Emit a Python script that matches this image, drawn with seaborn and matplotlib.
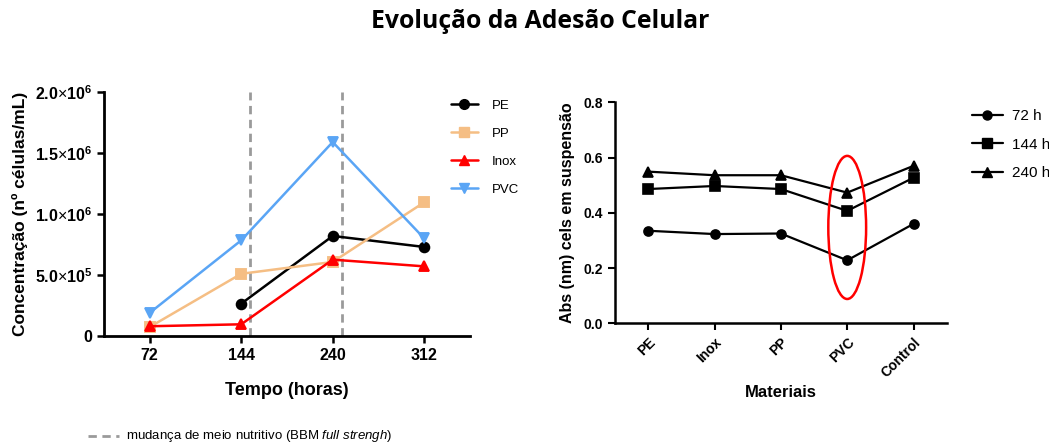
import numpy as np
import pandas as pd
import matplotlib
matplotlib.use("Agg")
import matplotlib.pyplot as plt
import seaborn as sns
from matplotlib.lines import Line2D
from matplotlib.patches import Ellipse

# ---------------- data ----------------
times = ["72", "144", "240", "312"]
pe_vals = [np.nan, 0.265e6, 0.82e6, 0.73e6]
pp_vals = [0.074e6, 0.51e6, 0.607e6, 1.096e6]
inox_vals = [0.08e6, 0.096e6, 0.626e6, 0.571e6]
pvc_vals = [0.19e6, 0.784e6, 1.59e6, 0.80e6]
left_series = ["PE", "PP", "Inox", "PVC"]
left_colors = ["#000000", "#F5BE84", "#FF0000", "#5AA5F5"]
left_markers = ["o", "s", "^", "v"]
left_yticks = [0, 0.5e6, 1.0e6, 1.5e6, 2.0e6]
left_yticklabels = ["0", r"$\mathbf{5.0}{\times}\mathbf{10^{5}}$", r"$\mathbf{1.0}{\times}\mathbf{10^{6}}$",
                    r"$\mathbf{1.5}{\times}\mathbf{10^{6}}$", r"$\mathbf{2.0}{\times}\mathbf{10^{6}}$"]
change_positions = [1.1, 2.1]  # medium change (between sampling times)

materials = ["PE", "Inox", "PP", "PVC", "Control"]
abs_72 = [0.335, 0.323, 0.325, 0.228, 0.360]
abs_144 = [0.486, 0.497, 0.486, 0.407, 0.527]
abs_240 = [0.549, 0.536, 0.536, 0.473, 0.570]
right_series = ["72 h", "144 h", "240 h"]
right_markers = ["o", "s", "^"]
highlight = "PVC"
highlight_range = (0.088, 0.606)

# ---------------- frames ----------------
left_df = pd.DataFrame({
    "Tempo": times * 4,
    "Conc": pe_vals + pp_vals + inox_vals + pvc_vals,
    "Material": [s for s in left_series for _ in times],
})
right_df = pd.DataFrame({
    "Material": materials * 3,
    "Abs": abs_72 + abs_144 + abs_240,
    "Tempo": [s for s in right_series for _ in materials],
})

sns.set_theme(style="ticks")
plt.rcParams["font.family"] = ["Liberation Sans", "DejaVu Sans"]
plt.rcParams["mathtext.fontset"] = "custom"
plt.rcParams["mathtext.it"] = "Liberation Sans:italic"
plt.rcParams["mathtext.rm"] = "Liberation Sans"
plt.rcParams["mathtext.bf"] = "Liberation Sans:bold"
for k in ["text.color", "axes.labelcolor", "xtick.color", "ytick.color", "axes.edgecolor"]:
    plt.rcParams[k] = "black"

fig = plt.figure(figsize=(10.49, 4.43), dpi=100)
axL = fig.add_axes([0.0991, 0.2415, 0.3489, 0.5508])
axR = fig.add_axes([0.5863, 0.2702, 0.3162, 0.4989])

# ---------------- left chart ----------------
for xp in change_positions:
    axL.axvline(xp, color="#9A9A9A", lw=2, ls=(0, (3, 2)), zorder=1)
sns.pointplot(data=left_df, x="Tempo", y="Conc", hue="Material", order=times,
              hue_order=left_series, palette=left_colors, markers=left_markers,
              linestyles="-", errorbar=None, markersize=7, linewidth=1.8,
              legend=False, ax=axL)
axL.set_ylim(0, 2.0e6)
axL.set_xlim(-0.5, 3.5)
axL.set_yticks(left_yticks)
axL.set_yticklabels(left_yticklabels)
axL.set_xlabel("Tempo (horas)", fontsize=13, fontweight="bold", labelpad=14)
axL.set_ylabel("Concentração (nº células/mL)", fontsize=12.5, fontweight="bold", labelpad=5)
axL.tick_params(axis="both", labelsize=11.5, width=1.8, length=5, color="black")
for lab in axL.get_xticklabels() + axL.get_yticklabels():
    lab.set_fontweight("bold")
for sp in ["top", "right"]:
    axL.spines[sp].set_visible(False)
for sp in ["left", "bottom"]:
    axL.spines[sp].set_linewidth(2)
    axL.spines[sp].set_color("black")

hL = [Line2D([0], [0], color=c, marker=m, lw=1.8, markersize=7)
      for c, m in zip(left_colors, left_markers)]
fig.legend(hL, left_series, loc="upper left", bbox_to_anchor=(446 / 1049, 1 - 94 / 443),
           frameon=False, fontsize=9.5, handlelength=2.0, labelspacing=1.2,
           handletextpad=1.1, borderaxespad=0)

# ---------------- right chart ----------------
sns.pointplot(data=right_df, x="Material", y="Abs", hue="Tempo", order=materials,
              hue_order=right_series, palette=["black"] * 3, markers=right_markers,
              linestyles="-", errorbar=None, markersize=6.5, linewidth=1.6,
              legend=False, ax=axR)
axR.set_ylim(0, 0.8)
axR.set_xlim(-0.5, 4.5)
axR.set_yticks([0.0, 0.2, 0.4, 0.6, 0.8])
axR.set_yticklabels(["0.0", "0.2", "0.4", "0.6", "0.8"])
axR.set_xlabel("Materiais", fontsize=12, fontweight="bold", labelpad=4)
axR.set_ylabel("Abs (nm) cels em suspensão", fontsize=11.5, fontweight="bold", labelpad=6)
axR.tick_params(axis="both", labelsize=10, width=1.5, length=5, color="black")
for lab in axR.get_xticklabels() + axR.get_yticklabels():
    lab.set_fontweight("bold")
plt.setp(axR.get_xticklabels(), rotation=45, ha="right", rotation_mode="anchor")
for sp in ["top", "right"]:
    axR.spines[sp].set_visible(False)
for sp in ["left", "bottom"]:
    axR.spines[sp].set_linewidth(1.8)
    axR.spines[sp].set_color("black")

hx = materials.index(highlight)
lo, hi = highlight_range
axR.add_patch(Ellipse((hx, (lo + hi) / 2), width=0.57, height=hi - lo,
                      fill=False, edgecolor="#FF0000", lw=1.8, zorder=5, clip_on=False))

hR = [Line2D([0], [0], color="black", marker=m, lw=1.6, markersize=6.5)
      for m in right_markers]
fig.legend(hR, right_series, loc="upper left", bbox_to_anchor=(966 / 1049, 1 - 103 / 443),
           frameon=False, fontsize=11, handlelength=2.0, labelspacing=0.95,
           handletextpad=0.6, borderaxespad=0)

# ---------------- title & footnote ----------------
fig.text(540 / 1049, 1 - 22 / 443, "Evolução da Adesão Celular", ha="center", va="center",
         fontsize=17.8, fontweight="bold", color="black", family=["Open Sans", "DejaVu Sans"])
fig.add_artist(Line2D([88 / 1049, 119 / 1049], [1 - 436 / 443] * 2, color="#9A9A9A",
                      lw=2, ls=(0, (3, 2)), transform=fig.transFigure))
fig.text(126 / 1049, 1 - 436 / 443, r"mudança de meio nutritivo (BBM $\it{full\ strengh}$)",
         ha="left", va="center", fontsize=9.5)

fig.savefig("out.png", dpi=100)
